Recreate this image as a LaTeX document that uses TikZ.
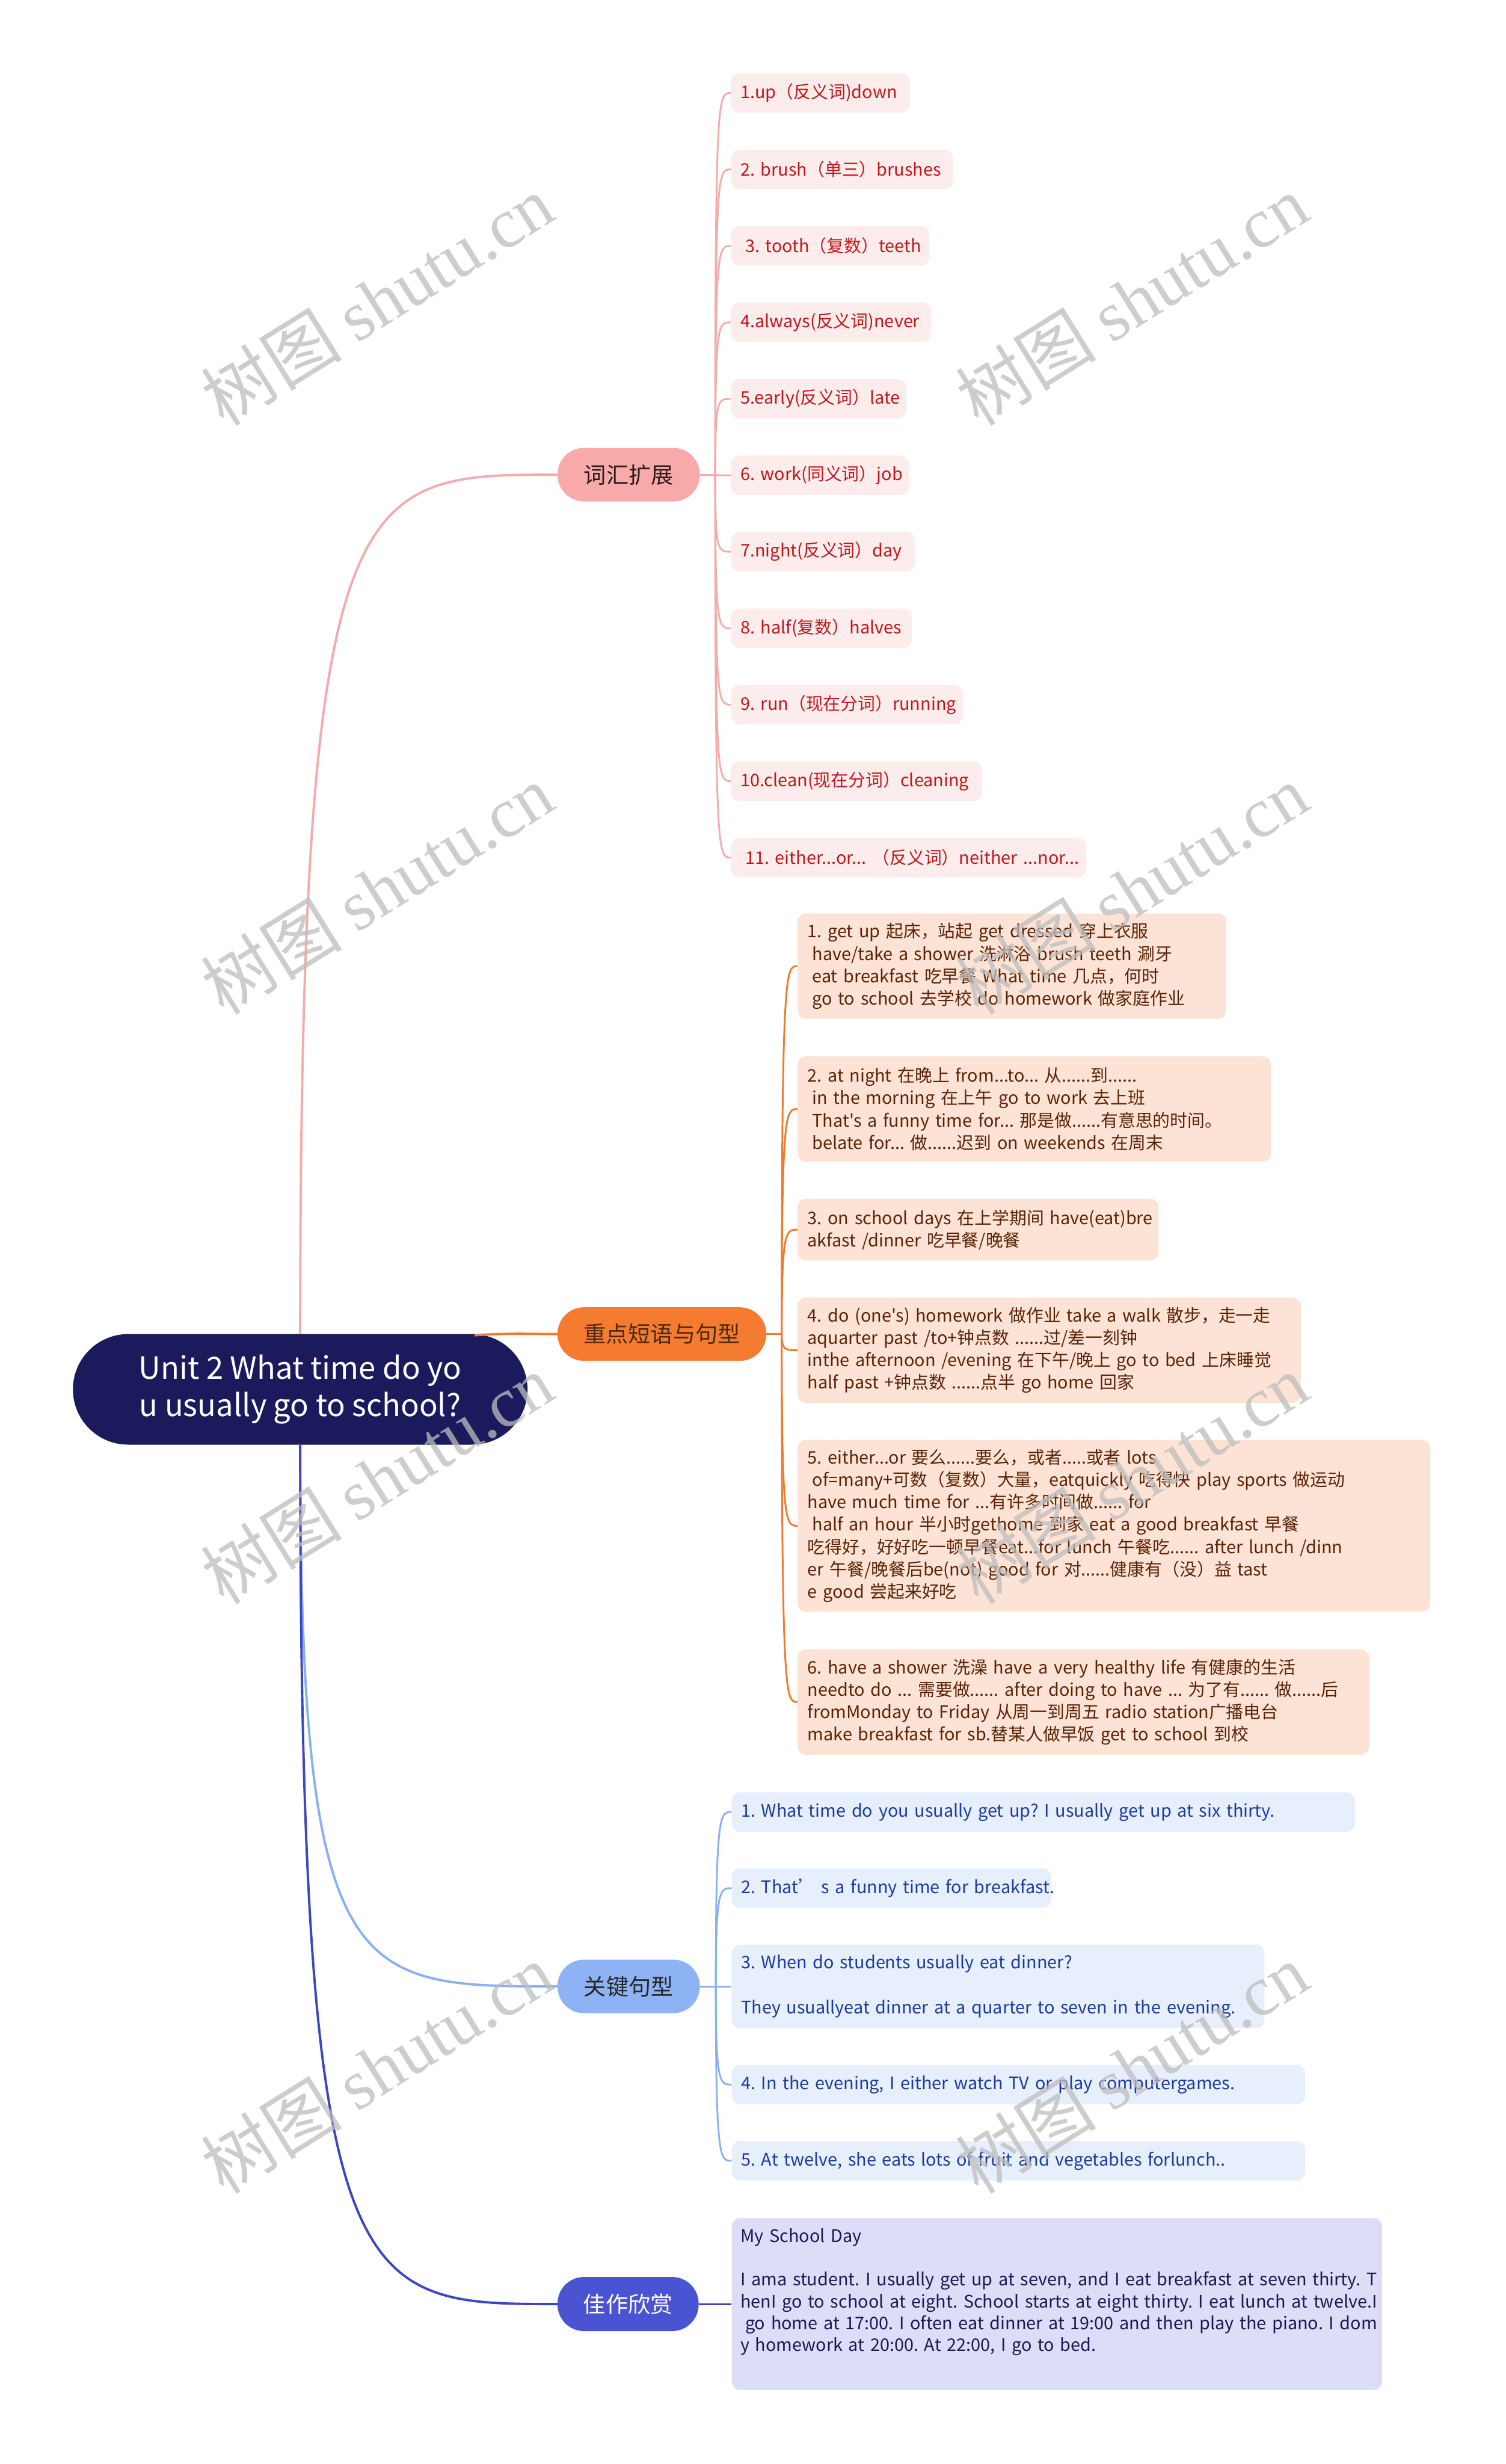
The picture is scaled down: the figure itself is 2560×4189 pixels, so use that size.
\documentclass[tikz,border=0pt]{standalone}
\usepackage{fontspec}
\newfontfamily\mainf{Noto Sans CJK SC}
\newfontfamily\wmlat{Liberation Serif}
\usetikzlibrary{calc}
\newcommand\fs[2]{\mainf\fontsize{#1}{#2}\selectfont\frenchspacing}
\newcommand\li[1]{\mbox{#1}}
\definecolor{rootc}{HTML}{1B1A5C}
\definecolor{pinkc}{HTML}{F8A9A9}
\definecolor{pinkline}{HTML}{F5ABAB}
\definecolor{vocfill}{HTML}{FDECEC}
\definecolor{voctext}{HTML}{C0161B}
\definecolor{pinktext}{HTML}{2B1B1B}
\definecolor{orgc}{HTML}{F47B30}
\definecolor{orgline}{HTML}{F07A2E}
\definecolor{orgfill}{HTML}{FDE3D5}
\definecolor{orgtext}{HTML}{5A2306}
\definecolor{orgntext}{HTML}{4A2A10}
\definecolor{bluec}{HTML}{8DB3F4}
\definecolor{blueline}{HTML}{8AB0F0}
\definecolor{bluefill}{HTML}{E7EFFD}
\definecolor{bluetext}{HTML}{1B3C9C}
\definecolor{indc}{HTML}{4A53D2}
\definecolor{indline}{HTML}{3D45C4}
\definecolor{indfill}{HTML}{DCDDF7}
\definecolor{indtext}{HTML}{1A1A50}
\definecolor{wmgray}{HTML}{BDBDBD}
\begin{document}
\begin{tikzpicture}[x=1pt,y=-1pt,
  rootbox/.style={fill=rootc, text=white, rounded corners=94pt, minimum width=773pt, minimum height=188pt, inner sep=0pt, align=center, font=\fs{52}{64}},
  branchbox/.style={rounded corners=45pt, minimum height=91pt, inner sep=0pt, font=\fs{38}{46}},
  vocleaf/.style={anchor=west, fill=vocfill, text=voctext, rounded corners=14pt, minimum height=67pt, inner xsep=16pt, inner ysep=0pt, align=left, font=\fs{29.5}{38}},
  impleaf/.style={anchor=west, fill=orgfill, text=orgtext, rounded corners=14pt, inner xsep=17pt, inner ysep=0pt, align=left, font=\fs{29.5}{38}},
  keyleaf/.style={anchor=west, fill=bluefill, text=bluetext, rounded corners=14pt, minimum height=67pt, inner xsep=16pt, inner ysep=0pt, align=left, font=\fs{29.5}{38}},
  writeleaf/.style={anchor=west, fill=indfill, text=indtext, rounded corners=14pt, inner xsep=15pt, inner ysep=0pt, align=left, font=\fs{29.5}{37}},
  wm/.style={rotate=32, text=wmgray, opacity=0.75, inner sep=0pt, font=\fs{120}{130}},
  vline/.style={draw=pinkline, line width=3pt},
  oline/.style={draw=orgline, line width=3pt},
  kline/.style={draw=blueline, line width=3pt},
  iline/.style={draw=indline, line width=3pt}
]
\useasboundingbox (0,0) rectangle (2560,4189);
\fill[white] (0,0) rectangle (2560,4189);

% root and branches
\node[rootbox] (root) at (510.5,2362) {Unit 2 What time do yo\\u usually go to school?};
\node[branchbox, fill=pinkc, text=pinktext, minimum width=242pt] (voc) at (1069,807) {词汇扩展};
\node[branchbox, fill=orgc, text=orgntext, minimum width=355pt] (imp) at (1125.5,2268) {重点短语与句型};
\node[branchbox, fill=bluec, text=black!85, minimum width=242pt] (key) at (1069,3377) {关键句型};
\node[branchbox, fill=indc, text=white, minimum width=240pt, minimum height=92pt] (art) at (1068,3917) {佳作欣赏};

% vocabulary leaves
\node[vocleaf, text width=272pt] (v1) at (1243,158) {\li{1.up（反义词)down}};
\node[vocleaf, text width=345pt] (v2) at (1243,288) {\li{2. brush（单三）brushes}};
\node[vocleaf, text width=305pt] (v3) at (1243,418) {\li{\hspace*{8pt}3. tooth（复数）teeth}};
\node[vocleaf, text width=308pt] (v4) at (1243,548) {\li{4.always(反义词)never}};
\node[vocleaf, text width=266pt] (v5) at (1243,678) {\li{5.early(反义词）late}};
\node[vocleaf, text width=270pt] (v6) at (1243,808) {\li{6. work(同义词）job}};
\node[vocleaf, text width=280pt] (v7) at (1243,938) {\li{7.night(反义词）day}};
\node[vocleaf, text width=275pt] (v8) at (1243,1068) {\li{8. half(复数）halves}};
\node[vocleaf, text width=362pt] (v9) at (1243,1198) {\li{9. run（现在分词）running}};
\node[vocleaf, text width=395pt] (v10) at (1243,1328) {\li{10.clean(现在分词）cleaning}};
\node[vocleaf, text width=572pt] (v11) at (1243,1458) {\li{\hspace*{8pt}11. either...or... （反义词）neither ...nor...}};

% phrase leaves
\node[impleaf, text width=695pt, minimum height=179pt] (o1) at (1356,1642.5) {\li{1. get up 起床，站起 get dressed 穿上衣服}\\
\li{\hspace*{8pt}have/take a shower 洗淋浴 brush teeth 涮牙}\\
\li{\hspace*{8pt}eat breakfast 吃早餐 What time 几点，何时}\\
\li{\hspace*{8pt}go to school 去学校 do homework 做家庭作业}};
\node[impleaf, text width=771pt, minimum height=179pt] (o2) at (1356,1885.5) {\li{2. at night 在晚上 from...to... 从......到......}\\
\li{\hspace*{8pt}in the morning 在上午 go to work 去上班}\\
\li{\hspace*{8pt}That's a funny time for... 那是做......有意思的时间。}\\
\li{\hspace*{8pt}belate for... 做......迟到 on weekends 在周末}};
\node[impleaf, text width=580pt, minimum height=105pt] (o3) at (1356,2090.5) {\li{3. on school days 在上学期间 have(eat)bre}\\
\li{akfast /dinner 吃早餐/晚餐}};
\node[impleaf, text width=822pt, minimum height=179pt] (o4) at (1356,2295.5) {\li{4. do (one's) homework 做作业 take a walk 散步，走一走}\\
\li{aquarter past /to+钟点数 ......过/差一刻钟}\\
\li{inthe afternoon /evening 在下午/晚上 go to bed 上床睡觉}\\
\li{half past +钟点数 ......点半 go home 回家}};
\node[impleaf, text width=1042pt, minimum height=292pt] (o5) at (1356,2594) {\li{5. either...or 要么......要么，或者.....或者 lots}\\
\li{\hspace*{8pt}of=many+可数（复数）大量，eatquickly 吃得快 play sports 做运动}\\
\li{have much time for ...有许多时间做...... for}\\
\li{\hspace*{8pt}half an hour 半小时gethome 到家 eat a good breakfast 早餐}\\
\li{吃得好，好好吃一顿早餐eat...for lunch 午餐吃...... after lunch /dinn}\\
\li{er 午餐/晚餐后be(not) good for 对......健康有（没）益 tast}\\
\li{e good 尝起来好吃}};
\node[impleaf, text width=938pt, minimum height=179pt] (o6) at (1356,2893.5) {\li{6. have a shower 洗澡 have a very healthy life 有健康的生活}\\
\li{needto do ... 需要做...... after doing to have ... 为了有...... 做......后}\\
\li{fromMonday to Friday 从周一到周五 radio station广播电台}\\
\li{make breakfast for sb.替某人做早饭 get to school 到校}};

% key sentence leaves
\node[keyleaf, text width=1028pt] (k1) at (1244,3080.5) {\li{1. What time do you usually get up? I usually get up at six thirty.}};
\node[keyleaf, text width=511pt] (k2) at (1244,3210) {\li{2. That’ s a funny time for breakfast.}};
\node[keyleaf, text width=874pt, minimum height=142pt] (k3) at (1244,3377) {\li{3. When do students usually eat dinner?}\\ \strut\\
\li{They usuallyeat dinner at a quarter to seven in the evening.}};
\node[keyleaf, text width=943pt] (k4) at (1244,3544) {\li{4. In the evening, I either watch TV or play computergames.}};
\node[keyleaf, text width=943pt] (k5) at (1244,3673.5) {\li{5. At twelve, she eats lots of fruit and vegetables forlunch..}};

% writing leaf
\node[writeleaf, text width=1076pt, minimum height=292pt] (w1) at (1244,3917) {\li{My School Day}\\ \strut\\
\li{I ama student. I usually get up at seven, and I eat breakfast at seven thirty. T}\\
\li{henI go to school at eight. School starts at eight thirty. I eat lunch at twelve.I}\\
\li{\hspace*{8pt}go home at 17:00. I often eat dinner at 19:00 and then play the piano. I dom}\\
\li{y homework at 20:00. At 22:00, I go to bed.}\\ \strut};

% main connectors
\draw[draw=pinkline, line width=4pt] (root.north) .. controls (510.5,806) and (600,807) .. (voc.west);
\coordinate (oj) at (807,2270);
\draw[draw=orgline, line width=4pt] (oj) .. controls (870,2266) and (900,2268) .. (imp.west);
\draw[draw=blueline, line width=4pt] (root.south) .. controls (510.5,3377) and (600,3377) .. (key.west);
\draw[draw=indline, line width=4pt] (root.south) .. controls (510.5,3917) and (600,3917) .. (art.west);

% vocabulary connectors
\coordinate (vt) at ([xshift=26pt]voc.east);
\draw[vline] (voc.east) -- (vt);
\foreach \k in {1,...,11} {
  \draw[vline] (vt) .. controls (vt |- v\k.west) and ([xshift=-23pt]v\k.west) .. (v\k.west);
}
% phrase connectors
\coordinate (ot) at ([xshift=26pt]imp.east);
\draw[oline] (imp.east) -- (ot);
\foreach \k in {1,...,6} {
  \draw[oline] (ot) .. controls (ot |- o\k.west) and ([xshift=-20pt]o\k.west) .. (o\k.west);
}
% key connectors
\coordinate (kt) at ([xshift=27pt]key.east);
\draw[kline] (key.east) -- (kt);
\foreach \k in {1,...,5} {
  \draw[kline] (kt) .. controls (kt |- k\k.west) and ([xshift=-20pt]k\k.west) .. (k\k.west);
}
% writing connector
\draw[iline] (art.east) -- (w1.west);

% watermarks
\node[wm] (wm1) at (641,510) {树图 {\wmlat shutu.cn}};
\node[wm] (wm2) at (1924,510) {树图 {\wmlat shutu.cn}};
\node[wm] (wm3) at (641,1512) {树图 {\wmlat shutu.cn}};
\node[wm] (wm4) at (1924,1512) {树图 {\wmlat shutu.cn}};
\node[wm] (wm5) at (641,2514) {树图 {\wmlat shutu.cn}};
\node[wm] (wm6) at (1924,2514) {树图 {\wmlat shutu.cn}};
\node[wm] (wm7) at (641,3516) {树图 {\wmlat shutu.cn}};
\node[wm] (wm8) at (1924,3516) {树图 {\wmlat shutu.cn}};
\end{tikzpicture}
\end{document}
